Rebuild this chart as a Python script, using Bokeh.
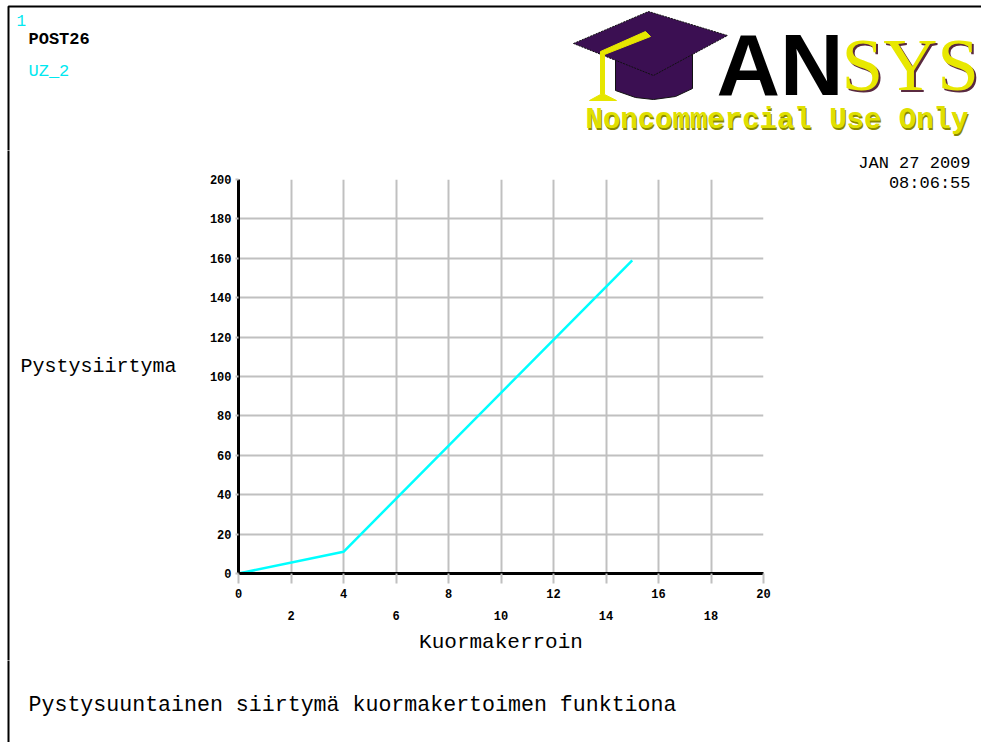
from bokeh.plotting import figure
from bokeh.layouts import column, row
from bokeh.models import Range1d, LinearAxis, FixedTicker
from bokeh.core.properties import value
from bokeh.embed import file_html
from bokeh.resources import INLINE

# ---- data ----
load_factor = [0, 4, 15]
uz_2 = [0, 11, 159]
x_ticks_all = [0, 2, 4, 6, 8, 10, 12, 14, 16, 18, 20]
x_ticks_row1 = [0, 4, 8, 12, 16, 20]
x_ticks_row2 = [2, 6, 10, 14, 18]
y_ticks = [0, 20, 40, 60, 80, 100, 120, 140, 160, 180, 200]

MONO = "Liberation Mono"
GRID = "#c0c0c0"
CYAN = "#00e8f0"

TOP_H, MID_H, BOT_H = 150, 510, 82
LEFT_W, MAIN_W, RIGHT_W = 200, 580, 201


def deco(w, h):
    f = figure(width=w, height=h, x_range=Range1d(0, w), y_range=Range1d(h, 0),
               x_axis_type=None, y_axis_type=None, min_border=0, frame_align=False,
               toolbar_location=None, output_backend="svg")
    f.outline_line_color = None
    f.background_fill_color = "white"
    f.border_fill_color = "white"
    return f


def txt(f, text, x, y, size, color="black", align="left", style="normal", font=MONO, baseline="middle"):
    f.text(x=[x], y=[y], text=[text], text_font=value(font), text_font_size=size,
           text_color=color, text_align=align, text_baseline=baseline, text_font_style=style)


# ---------------- top strip ----------------
top = deco(LEFT_W + MAIN_W + RIGHT_W, TOP_H)
top.line([8, 8, 981], [TOP_H + 2, 6, 6], line_color="black", line_width=2)
txt(top, "1", 16, 20, "16px", color=CYAN)
txt(top, "POST26", 28, 39, "17px", style="bold")
txt(top, "UZ_2", 28, 71, "17px", color=CYAN)
# logo cap
top.patch([615, 615, 635, 653, 675, 692, 692], [52, 90, 97, 99, 96, 88, 45],
          fill_color="#3b0f52", line_color="#111111", line_width=1)
top.patch([573, 648, 727, 653], [43, 11, 35, 75],
          fill_color="#3b0f52", line_color="#111111", line_width=1, line_dash="2 1")
top.patch([645, 650, 604, 604, 616, 589, 600, 600], [31, 36, 54, 94, 100, 100, 94, 51],
          fill_color="#e6e600", line_color="#e6e600", line_width=1)
txt(top, "AN", 716, 64, "88px", color="black", style="bold", font="Liberation Sans")
txt(top, "SYS", 843, 66, "75px", color="#5a2a40", font="Liberation Serif")
txt(top, "SYS", 841, 64, "75px", color="#e8e800", font="Liberation Serif")
txt(top, "Noncommercial Use Only", 586, 122, "29px", color="#8a8a00", style="bold")
txt(top, "Noncommercial Use Only", 585, 120, "29px", color="#e0e000", style="bold")

# ---------------- left strip ----------------
left = deco(LEFT_W, MID_H)
left.line([8, 8], [-2, MID_H + 2], line_color="black", line_width=2)
txt(left, "Pystysiirtyma", 20, 366 - TOP_H, "20px")

# ---------------- right strip ----------------
right = deco(RIGHT_W, MID_H)
txt(right, "JAN 27 2009", 970 - 780, 163 - TOP_H, "17px", align="right")
txt(right, "08:06:55", 970 - 780, 183 - TOP_H, "17px", align="right")

# ---------------- main chart ----------------
p = figure(width=MAIN_W, height=MID_H, x_range=Range1d(0, 20), y_range=Range1d(0, 200),
           output_backend="svg", toolbar_location=None, frame_align=False,
           min_border_left=38, min_border_right=17, min_border_top=29, min_border_bottom=87)
p.outline_line_color = None
p.background_fill_color = "white"
p.border_fill_color = "white"

p.xgrid.ticker = FixedTicker(ticks=x_ticks_all)
p.ygrid.ticker = FixedTicker(ticks=y_ticks)
for g in (p.xgrid, p.ygrid):
    g.grid_line_color = GRID
    g.grid_line_width = 2

ax1 = p.xaxis[0]
ax1.ticker = FixedTicker(ticks=x_ticks_all)
ax1.major_label_overrides = {t: (str(t) if t in x_ticks_row1 else "") for t in x_ticks_all}
ax1.axis_line_color = "black"
ax1.axis_line_width = 3
ax1.major_tick_line_color = GRID
ax1.major_tick_line_width = 2
ax1.major_tick_in = 0
ax1.major_tick_out = 10
ax1.minor_tick_line_color = None
ax1.major_label_standoff = 5
ax1.major_label_text_font = MONO
ax1.major_label_text_font_style = "bold"
ax1.major_label_text_font_size = "12px"
ax1.major_label_text_color = "black"

ay = p.yaxis[0]
ay.ticker = FixedTicker(ticks=y_ticks)
ay.axis_line_color = "black"
ay.axis_line_width = 3
ay.major_tick_line_color = GRID
ay.major_tick_line_width = 2
ay.major_tick_in = 0
ay.major_tick_out = 3
ay.minor_tick_line_color = None
ay.major_label_standoff = 4
ay.major_label_text_font = MONO
ay.major_label_text_font_style = "bold"
ay.major_label_text_font_size = "12px"
ay.major_label_text_color = "black"

ax2 = LinearAxis(ticker=FixedTicker(ticks=x_ticks_row2),
                 axis_line_color=None, major_tick_line_color=None, minor_tick_line_color=None,
                 major_tick_out=0, major_tick_in=0, major_label_standoff=10,
                 major_label_text_font=MONO, major_label_text_font_style="bold",
                 major_label_text_font_size="12px", major_label_text_color="black",
                 axis_label="Kuormakerroin", axis_label_standoff=8,
                 axis_label_text_font=MONO, axis_label_text_font_style="normal",
                 axis_label_text_font_size="21px", axis_label_text_color="black")
p.add_layout(ax2, "below")

p.line(load_factor, uz_2, line_color="#00ffff", line_width=2.5)

# ---------------- bottom strip ----------------
bot = deco(LEFT_W + MAIN_W + RIGHT_W, BOT_H)
bot.line([8, 8], [-2, BOT_H + 2], line_color="black", line_width=2)
txt(bot, "Pystysuuntainen siirtymä kuormakertoimen funktiona", 28, 704 - TOP_H - MID_H, "21.6px")

layout = column(top, row(left, p, right), bot)
open("out.html", "w").write(file_html(layout, INLINE))
